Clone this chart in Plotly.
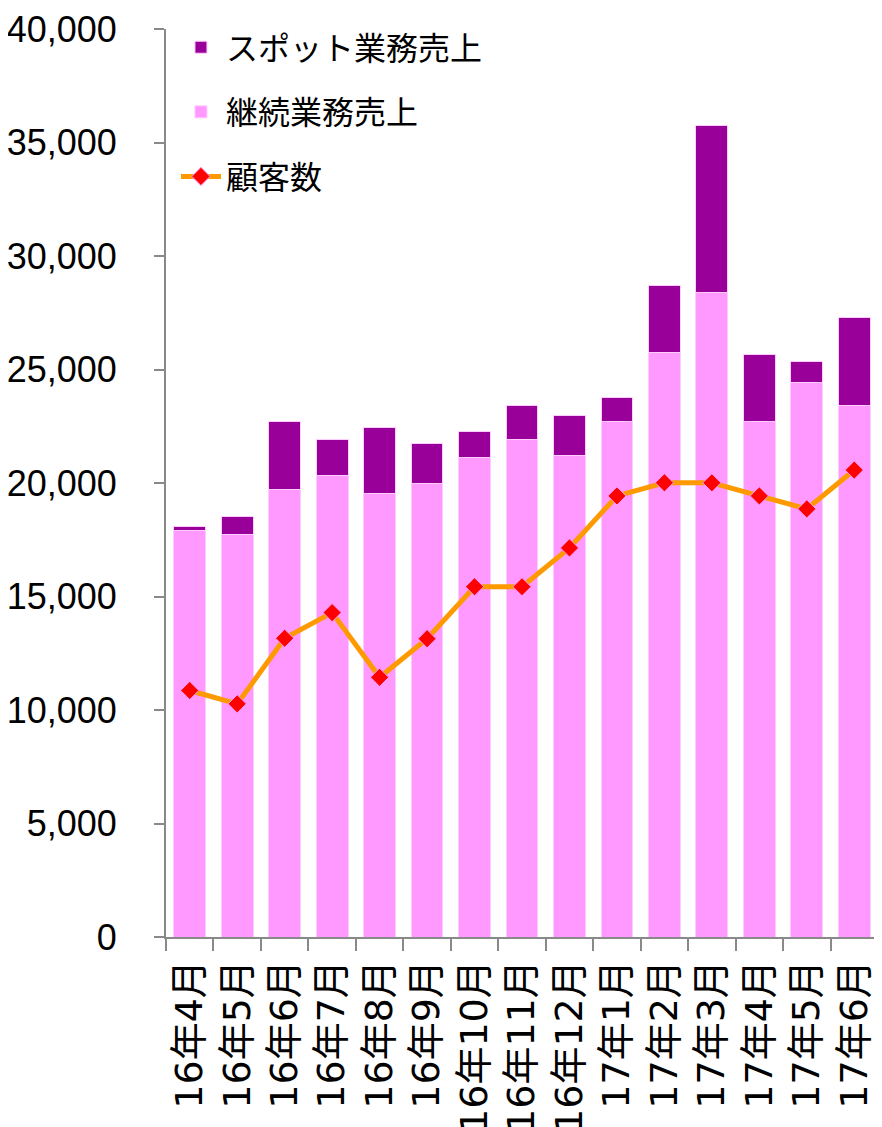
import plotly.graph_objects as go

categories = ["16年4月", "16年5月", "16年6月", "16年7月", "16年8月", "16年9月",
              "16年10月", "16年11月", "16年12月", "17年1月", "17年2月", "17年3月",
              "17年4月", "17年5月", "17年6月"]
continuing_sales = [17920, 17730, 19710, 20310, 19520, 20000, 21140, 21900,
                    21200, 22710, 25770, 28400, 22710, 24410, 23400]
spot_sales = [160, 780, 3000, 1620, 2930, 1730, 1150, 1510,
              1790, 1060, 2930, 7370, 2950, 950, 3880]
customers = [10860, 10270, 13160, 14290, 11440, 13140, 15430, 15430,
             17140, 19430, 20010, 20010, 19430, 18860, 20570]

FONT = "Arial, 'Liberation Sans', 'Noto Sans CJK JP', sans-serif"
XFONT = "'DejaVu Sans', 'Noto Sans CJK JP', sans-serif"

fig = go.Figure()
fig.add_trace(go.Bar(
    x=categories, y=continuing_sales, name="継続業務売上",
    marker=dict(color="#FF99FF", line=dict(color="#FFCCFF", width=1)),
    legendrank=2, legendgroup="b",
))
fig.add_trace(go.Bar(
    x=categories, y=spot_sales, name="スポット業務売上",
    marker=dict(color="#990099", line=dict(color="#FFCCFF", width=1)),
    legendrank=1, legendgroup="a",
))
fig.add_trace(go.Scatter(
    x=categories, y=customers, name="顧客数", mode="lines+markers",
    line=dict(color="#FF9900", width=5),
    marker=dict(symbol="diamond", color="#FF0000", size=14,
                line=dict(color="#FF99FF", width=1)),
    legendrank=3, legendgroup="c",
))

fig.update_layout(
    width=882, height=1127,
    barmode="stack", bargap=0.33,
    plot_bgcolor="white", paper_bgcolor="white",
    margin=dict(l=158, r=12, t=14, b=198),
    font=dict(family=FONT, size=32, color="black"),
    showlegend=True,
    legend=dict(x=0.014, y=1.01, xanchor="left", yanchor="top",
                bgcolor="rgba(0,0,0,0)", font=dict(size=32, family=FONT),
                traceorder="grouped", tracegroupgap=20,
                itemwidth=40),
    xaxis=dict(
        type="category", range=[-0.5, 14.5], automargin=False,
        showline=True, linecolor="#898989", linewidth=2,
        ticks="outside", ticklen=12, tickcolor="#898989", tickwidth=2,
        tickson="boundaries", tickangle=-90, showgrid=False,
        tickfont=dict(size=38, family=XFONT), ticklabelstandoff=6,
    ),
    yaxis=dict(
        range=[0, 40000], dtick=5000, tickformat=",", automargin=False,
        showline=True, linecolor="#898989", linewidth=2,
        ticks="outside", ticklen=10, tickcolor="#898989", tickwidth=2,
        showgrid=False, zeroline=False,
        tickfont=dict(size=36, family=FONT), ticklabelstandoff=30,
    ),
)

fig.write_html("out.html")
